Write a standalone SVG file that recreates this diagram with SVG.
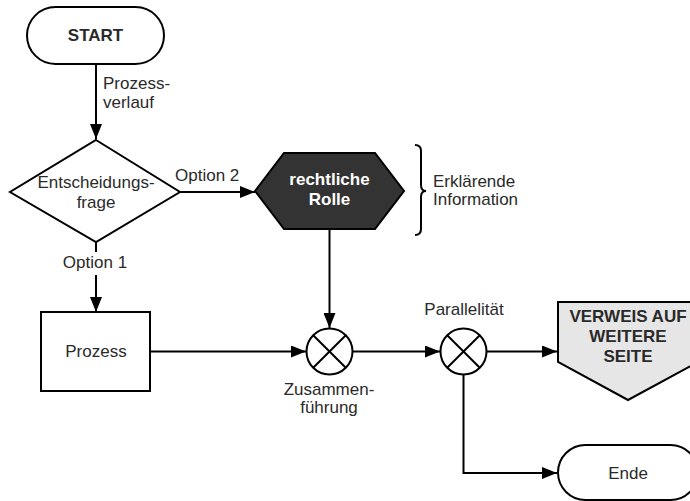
<svg xmlns="http://www.w3.org/2000/svg" width="690" height="501" viewBox="0 0 690 501">
  <style>
    .shape { fill: #ffffff; stroke: #000000; stroke-width: 2; }
    .line { fill: none; stroke: #000000; stroke-width: 2; }
    .txt { font-family: "Liberation Sans", Arial, sans-serif; font-size: 17px; fill: #2a2a2a; }
    .bold { font-weight: bold; }
    .mid { text-anchor: middle; }
    .light { fill: #ffffff; }
  </style>
  <defs>
    <marker id="arrow" markerUnits="userSpaceOnUse" markerWidth="16" markerHeight="12" refX="15" refY="6" orient="auto">
      <path d="M0,0 L15,6 L0,12 Z" fill="#000000"/>
    </marker>
  </defs>
  <rect width="690" height="501" fill="#ffffff"/>

  <!-- connectors and their labels -->
  <g id="connectors">
    <line class="line" x1="96" y1="64" x2="96" y2="139" marker-end="url(#arrow)"/>
    <line class="line" x1="180" y1="192" x2="255" y2="192" marker-end="url(#arrow)"/>
    <line class="line" x1="96" y1="242" x2="96" y2="252"/>
    <line class="line" x1="96" y1="275" x2="96" y2="312" marker-end="url(#arrow)"/>
    <line class="line" x1="150" y1="351.5" x2="306" y2="351.5" marker-end="url(#arrow)"/>
    <line class="line" x1="329.5" y1="229" x2="329.5" y2="328" marker-end="url(#arrow)"/>
    <line class="line" x1="353" y1="351.5" x2="440" y2="351.5" marker-end="url(#arrow)"/>
    <line class="line" x1="487" y1="351.5" x2="557" y2="351.5" marker-end="url(#arrow)"/>
    <polyline class="line" points="463.5,375 463.5,473 557,473" marker-end="url(#arrow)"/>
    <text class="txt" x="103" y="89">Prozess-</text>
    <text class="txt" x="103" y="108">verlauf</text>
    <text class="txt" x="175" y="181">Option 2</text>
    <text class="txt mid" x="95" y="268">Option 1</text>
  </g>

  <g id="start">
    <rect class="shape" x="27" y="7" width="137" height="57" rx="28.5"/>
    <text class="txt bold mid" x="95.5" y="41">START</text>
  </g>

  <g id="decision">
    <polygon class="shape" points="96,140 180,192 96,242 10,192"/>
    <text class="txt mid" x="96" y="188">Entscheidungs-</text>
    <text class="txt mid" x="96" y="208">frage</text>
  </g>

  <g id="role">
    <polygon points="255,191 284,153 375,153 404,191 375,229 284,229" fill="#333333" stroke="#000000" stroke-width="2"/>
    <text class="txt bold mid light" x="329.5" y="185">rechtliche</text>
    <text class="txt bold mid light" x="329.5" y="205">Rolle</text>
  </g>

  <g id="note">
    <path class="line" d="M415,145 Q421,145 421,151 L421,185 Q421,191 426,191 Q421,191 421,197 L421,229 Q421,235 415,235"/>
    <text class="txt" x="433" y="187">Erklärende</text>
    <text class="txt" x="433" y="205">Information</text>
  </g>

  <g id="process">
    <rect class="shape" x="41" y="312" width="109" height="79"/>
    <text class="txt mid" x="96" y="357">Prozess</text>
  </g>

  <g id="merge">
    <circle class="shape" cx="329.5" cy="351.5" r="23"/>
    <path class="line" d="M313.2,335.2 L345.8,367.8 M345.8,335.2 L313.2,367.8"/>
    <text class="txt mid" x="329" y="395">Zusammen-</text>
    <text class="txt mid" x="329" y="413">führung</text>
  </g>

  <g id="parallel">
    <circle class="shape" cx="463.5" cy="351.5" r="23"/>
    <path class="line" d="M447.2,335.2 L479.8,367.8 M479.8,335.2 L447.2,367.8"/>
    <text class="txt mid" x="464" y="315">Parallelität</text>
  </g>

  <g id="offpage">
    <polygon points="558,302 698,302 698,362 628,400 558,362" fill="#e6e6e6" stroke="#000000" stroke-width="2"/>
    <text class="txt bold mid" x="628" y="322">VERWEIS AUF</text>
    <text class="txt bold mid" x="628" y="342">WEITERE</text>
    <text class="txt bold mid" x="628" y="362">SEITE</text>
  </g>

  <g id="end">
    <rect class="shape" x="558" y="445" width="140" height="55" rx="27.5"/>
    <text class="txt mid" x="628" y="479">Ende</text>
  </g>
</svg>
